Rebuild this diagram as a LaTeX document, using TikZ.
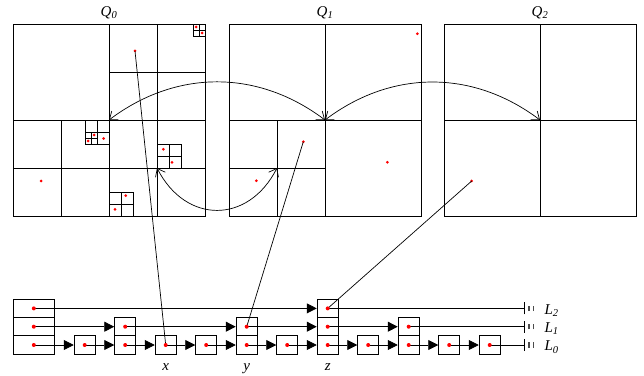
\documentclass[tikz,border=0pt]{standalone}
\usepackage{fontspec}
\setmainfont{Liberation Serif}
\usepackage{tikz}
\usetikzlibrary{arrows.meta}

\begin{document}
\begin{tikzpicture}[x=1pt,y=1pt,
  grid/.style={line width=0.8pt},
  cell/.style={draw, line width=0.9pt, minimum width=21pt, minimum height=18.3pt, inner sep=0pt},
  head/.style={cell, minimum width=41pt},
  link/.style={line width=0.8pt, -{Triangle[length=10pt,width=10pt]}},
  swap/.style={line width=0.7pt, {Straight Barb[length=7pt,width=11pt]}-{Straight Barb[length=7pt,width=11pt]}},
  lbl/.style={font=\fontsize{15}{18}\selectfont\itshape}
]
\useasboundingbox (0,0) rectangle (644,375);

% Q0: quadtree of the points
\begin{scope}[shift={(13,159)}]
\draw[grid] (0,0) rectangle (192,192);
\draw[grid] (96,0) -- (96,192) (0,96) -- (192,96);
\draw[grid] (144,96) -- (144,192) (96,144) -- (192,144); % upper right quadrant
\draw[grid] (180,180) rectangle (192,192) (186,180) -- (186,192) (180,186) -- (192,186);
\draw[grid] (48,0) -- (48,96) (0,48) -- (96,48); % lower left quadrant
\draw[grid] (72,72) rectangle (96,96) (84,72) -- (84,96) (72,84) -- (96,84);
\draw[grid] (78,72) -- (78,84) (72,78) -- (84,78);
\draw[grid] (144,0) -- (144,96) (96,48) -- (192,48); % lower right quadrant
\draw[grid] (144,48) rectangle (168,72) (156,48) -- (156,72) (144,60) -- (168,60);
\draw[grid] (96,0) rectangle (120,24) (108,0) -- (108,24) (96,12) -- (120,12);
\coordinate (c0) at (96,96);
\coordinate (d0) at (144,48);
\coordinate (p0) at (122,165);
\fill[red] (183,189) circle (1.5) (189,183) circle (1.5);
\fill[red] (81,81) circle (1.5) (75,75) circle (1.5) (90.5,77.5) circle (1.5);
\fill[red] (28,35) circle (1.5);
\fill[red] (150.3,66.7) circle (1.5) (159,53.7) circle (1.5);
\fill[red] (112.7,20.3) circle (1.5) (102,6.7) circle (1.5);
\fill[red] (p0) circle (1.5);
\end{scope}
\node[lbl, anchor=base] (q0) at (109,358.5) {Q\textsubscript{0}};

% Q1
\begin{scope}[shift={(229,159)}]
\draw[grid] (0,0) rectangle (192,192);
\draw[grid] (96,0) -- (96,192) (0,96) -- (192,96);
\draw[grid] (48,0) -- (48,96) (0,48) -- (96,48);
\coordinate (c1) at (96,96);
\coordinate (d1) at (48,48);
\coordinate (p1) at (74.3,74.3);
\fill[red] (188.3,182.3) circle (1.5) (27.3,35.3) circle (1.5) (158.3,53.7) circle (1.5);
\fill[red] (p1) circle (1.5);
\end{scope}
\node[lbl, anchor=base] (q1) at (325,358.5) {Q\textsubscript{1}};

% Q2
\begin{scope}[shift={(444,159)}]
\draw[grid] (0,0) rectangle (192,192);
\draw[grid] (96,0) -- (96,192) (0,96) -- (192,96);
\coordinate (c2) at (96,96);
\coordinate (p2) at (27.7,35);
\fill[red] (p2) circle (1.5);
\end{scope}
\node[lbl, anchor=base] (q2) at (540,358.5) {Q\textsubscript{2}};

% swapped cells
\draw[swap] (c0) to[out=37,in=143] (c1);
\draw[swap] (c1) to[out=37,in=143] (c2);
\draw[swap] (d0) to[out=-63,in=-117,looseness=1.35] (d1);

% skip list: heads
\node[head] (h0) at (33.8,30) {};
\node[head] (h1) at (33.8,48.3) {};
\node[head] (h2) at (33.8,66.6) {};

% level 0
\foreach \i in {1,...,11}
  \node[cell] (n0-\i) at ({84.7+40.5*(\i-1)},30) {};
% level 1 and 2
\node[cell] (n1-2) at (125.2,48.3) {};
\node[cell] (n1-5) at (246.7,48.3) {};
\node[cell] (n1-7) at (327.7,48.3) {};
\node[cell] (n1-9) at (408.7,48.3) {};
\node[cell] (n2-7) at (327.7,66.6) {};

% ends of the lists
\coordinate (e0) at (524,30);
\coordinate (e1) at (524,48.3);
\coordinate (e2) at (524,66.6);

% links
\draw[link] (h0.center) -- (n0-1.west);
\foreach \i [count=\j from 2] in {1,...,10}
  \draw[link] (n0-\i.center) -- (n0-\j.west);
\draw[line width=0.8pt] (n0-11.center) -- (e0);
\draw[link] (h1.center) -- (n1-2.west);
\draw[link] (n1-2.center) -- (n1-5.west);
\draw[link] (n1-5.center) -- (n1-7.west);
\draw[link] (n1-7.center) -- (n1-9.west);
\draw[line width=0.8pt] (n1-9.center) -- (e1);
\draw[link] (h2.center) -- (n2-7.west);
\draw[line width=0.8pt] (n2-7.center) -- (e2);

% nil markers
\foreach \e in {e0,e1,e2} {
  \draw[line width=0.9pt] ([yshift=-6pt]\e) -- ([yshift=6pt]\e);
  \draw[line width=1.3pt, black!70] ([xshift=5pt,yshift=-2.7pt]\e) -- ([xshift=5pt,yshift=2.7pt]\e);
  \draw[line width=1.3pt, black!70] ([xshift=9.5pt,yshift=-2.7pt]\e) -- ([xshift=9.5pt,yshift=2.7pt]\e);
}
\node[lbl, anchor=base west] (t0) at (541,24.1) {L\textsubscript{0}};
\node[lbl, anchor=base west] (t1) at (541,42.4) {L\textsubscript{1}};
\node[lbl, anchor=base west] (t2) at (541,60.7) {L\textsubscript{2}};

% points and their cells in the lists
\draw[line width=0.7pt] (p0) -- (n0-3.center);
\draw[line width=0.7pt] (p1) -- (n1-5.center);
\draw[line width=0.7pt] (p2) -- (n2-7.center);

\foreach \n in {h0,h1,h2,n0-1,n0-2,n0-3,n0-4,n0-5,n0-6,n0-7,n0-8,n0-9,n0-10,n0-11,n1-2,n1-5,n1-7,n1-9,n2-7}
  \fill[red] (\n) circle (2);

\node[lbl, anchor=base] (x) at (165.7,4.3) {x};
\node[lbl, anchor=base] (y) at (246.7,4.3) {y};
\node[lbl, anchor=base] (z) at (327.7,4.3) {z};

\end{tikzpicture}
\end{document}
